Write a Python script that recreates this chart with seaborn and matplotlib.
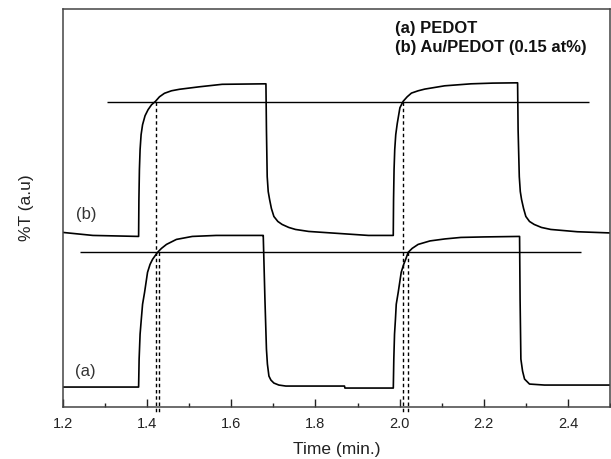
import numpy as np
import pandas as pd
import matplotlib
matplotlib.use("Agg")
import matplotlib.pyplot as plt
import seaborn as sns
from matplotlib.ticker import MultipleLocator

# ---- data ----
time_a = [1.2000, 1.3000, 1.3797, 1.3809, 1.3832, 1.3861, 1.3891, 1.3939, 1.4009, 1.4069, 1.4128,
          1.4246, 1.4340, 1.4459, 1.4695, 1.5073, 1.5641, 1.6752,
          1.6759, 1.6799, 1.6835, 1.6858, 1.6894, 1.6941, 1.7012, 1.7130, 1.7296, 1.7839,
          1.8690, 1.8700, 1.9850,
          1.9862, 1.9879, 1.9901, 1.9920, 1.9967, 2.0038, 2.0097, 2.0144, 2.0203, 2.0298,
          2.0440, 2.0723, 2.1078, 2.1456, 2.2000, 2.2851,
          2.2863, 2.2882, 2.2922, 2.2969, 2.3087, 2.3442, 2.4200, 2.5000]
trans_a = [0.20, 0.20, 0.20, 0.48, 0.73, 0.88, 1.03, 1.15, 1.35, 1.43, 1.48,
           1.55, 1.59, 1.63, 1.68, 1.71, 1.72, 1.72,
           1.72, 1.08, 0.58, 0.43, 0.31, 0.27, 0.24, 0.22, 0.21, 0.21,
           0.21, 0.19, 0.19,
           0.48, 0.73, 0.88, 1.03, 1.15, 1.35, 1.43, 1.48, 1.55, 1.59,
           1.63, 1.665, 1.685, 1.70, 1.705, 1.71,
           1.08, 0.48, 0.36, 0.28, 0.23, 0.22, 0.22, 0.22]

time_b = [1.2000, 1.2710, 1.3797, 1.3804, 1.3816, 1.3832, 1.3856, 1.3891, 1.3950, 1.4021, 1.4104,
          1.4199, 1.4293, 1.4411, 1.4577, 1.4766, 1.5239, 1.5783, 1.6823,
          1.6835, 1.6853, 1.6877, 1.6910, 1.6953, 1.7012, 1.7106, 1.7208, 1.7366, 1.7525,
          1.7839, 1.8548, 1.9258, 1.9849,
          1.9856, 1.9868, 1.9884, 1.9908, 1.9943, 2.0007, 2.0085, 2.0180, 2.0281, 2.0440,
          2.0598, 2.1071, 2.1700, 2.2213, 2.2804,
          2.2816, 2.2844, 2.2868, 2.2898, 2.2946, 2.3000, 2.3087, 2.3199, 2.3371, 2.3591,
          2.4222, 2.5000]
trans_b = [1.75, 1.72, 1.71, 2.08, 2.38, 2.58, 2.73, 2.83, 2.92, 2.98, 3.03,
           3.065, 3.11, 3.145, 3.17, 3.185, 3.21, 3.235, 3.24,
           2.78, 2.31, 2.16, 2.08, 1.99, 1.91, 1.86, 1.83, 1.80, 1.78,
           1.76, 1.74, 1.72, 1.72,
           2.08, 2.38, 2.58, 2.73, 2.84, 3.00, 3.065, 3.11, 3.147, 3.17,
           3.187, 3.22, 3.24, 3.247, 3.25,
           2.78, 2.31, 2.16, 2.08, 1.99, 1.91, 1.86, 1.83, 1.80, 1.78,
           1.757, 1.745]

# reference levels and response-time markers
level_a, level_a_span = 1.55, (1.24, 2.43)
level_b, level_b_span = 3.06, (1.304, 2.45)
marks_a = [1.429, 2.020]
marks_b = [1.420, 2.009]

xticks = [1.2, 1.4, 1.6, 1.8, 2.0, 2.2, 2.4]
legend_lines = ["(a) PEDOT", "(b) Au/PEDOT (0.15 at%)"]

# ---- style ----
sns.set_style("ticks")
plt.rcParams['font.family'] = ['Liberation Sans', 'DejaVu Sans']

fig = plt.figure(figsize=(6.11, 4.59), dpi=100)
ax = fig.add_axes([63/611, (459-407)/459, (610-63)/611, (407-9)/459])

df = pd.concat([
    pd.DataFrame({"t": time_a, "T": trans_a, "s": "a"}),
    pd.DataFrame({"t": time_b, "T": trans_b, "s": "b"}),
])
sns.lineplot(data=df, x="t", y="T", units="s", estimator=None, sort=False,
             color="black", lw=1.2, ax=ax, legend=False)

ax.hlines([level_a], *level_a_span, color="black", lw=1.0)
ax.hlines([level_b], *level_b_span, color="black", lw=1.0)
for x in marks_a:
    ax.plot([x, x], [level_a, -0.05], ls=(0, (2.5, 2)), color="black", lw=1.0, clip_on=False)
for x in marks_b:
    ax.plot([x, x], [level_b, -0.05], ls=(0, (2.5, 2)), color="black", lw=1.0, clip_on=False)

ax.set_xlim(1.2, 2.5)
ax.set_ylim(0, 3.99)
ax.set_xticks(xticks)
ax.set_xticklabels([f"{v:.1f}" for v in xticks])
ax.xaxis.set_minor_locator(MultipleLocator(0.1))
ax.set_yticks([])
ax.tick_params(axis="x", which="major", direction="in", length=6, width=1, labelsize=10.5,
               colors="#222222", pad=7)
ax.tick_params(axis="x", which="minor", direction="in", length=3, width=1, colors="#222222")
for sp in ax.spines.values():
    sp.set_visible(True)
    sp.set_color("#444444")
    sp.set_linewidth(1.1)

ax.set_xlabel("Time (min.)", fontsize=12.5, color="#222222", labelpad=8)
ax.set_ylabel("%T (a.u)", fontsize=12.5, color="#222222", labelpad=21)

ax.text(1.988, 3.79, legend_lines[0], fontsize=12, fontweight="bold", color="#111111", va="center")
ax.text(1.988, 3.60, legend_lines[1], fontsize=12, fontweight="bold", color="#111111", va="center")
ax.text(1.232, 1.93, "(b)", fontsize=12, color="#333333", va="center")
ax.text(1.228, 0.36, "(a)", fontsize=12, color="#333333", va="center")

fig.savefig("out.png", dpi=100)
